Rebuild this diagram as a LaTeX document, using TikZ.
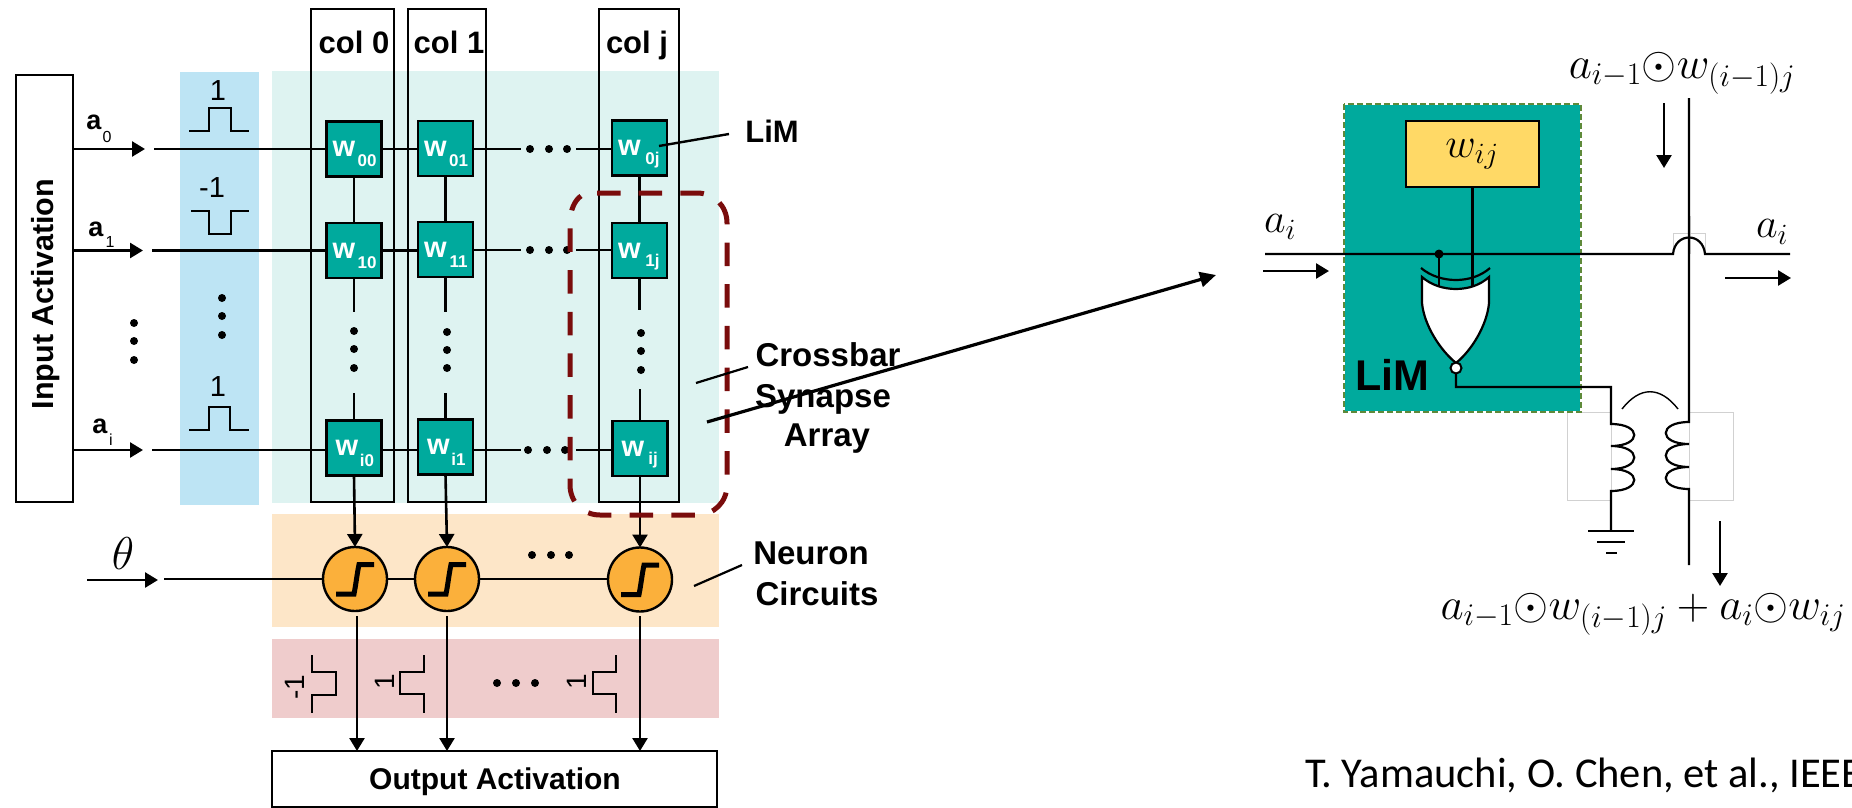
\RequirePackage{fix-cm}
\documentclass[tikz,border=0pt]{standalone}
\usepackage{fontspec}
\setmainfont{Liberation Sans}
\newfontfamily\citefont{Carlito}
\usetikzlibrary{arrows.meta}
\newcommand{\fsz}[1]{\fontsize{#1}{#1}\selectfont}
\definecolor{blueband}{HTML}{BDE4F4}
\definecolor{tealband}{HTML}{DEF3F1}
\definecolor{orangeband}{HTML}{FDE6C8}
\definecolor{pinkband}{HTML}{EFCCCC}
\definecolor{limteal}{HTML}{00AA9D}
\definecolor{neuronfill}{HTML}{FBB03B}
\definecolor{darkred}{HTML}{7A0C0C}
\definecolor{wyellow}{HTML}{FFD966}
\definecolor{limgreen}{HTML}{5F8A3A}
\tikzset{
  wire/.style={line width=2.6pt,black},
  thinw/.style={line width=2.2pt,black},
  arr/.style={line width=2.6pt,-{Triangle[length=13pt,width=15pt]}},
  outbox/.style={draw=black,line width=2.6pt,fill=white,inner sep=0pt,outer sep=0pt},
  colbox/.style={draw=black,line width=2.6pt,inner sep=0pt,outer sep=0pt},
  wbox/.style={draw=black,line width=2.6pt,fill=limteal,minimum width=55pt,minimum height=55pt,inner sep=0pt,outer sep=0pt},
  neuron/.style={circle,draw=black,line width=2.4pt,fill=neuronfill,minimum size=64pt,inner sep=0pt,outer sep=0pt},
  lab/.style={inner sep=0pt,font=\bfseries\fsz{33}},
  pulse/.style={line width=1.8pt,black},
  graybox/.style={draw=black!18,line width=1pt},
  wlet/.style={inner sep=0pt,text=white,font=\bfseries\fsz{29}},
  wsub/.style={inner sep=0pt,text=white,font=\bfseries\fsz{17}},
  pnum/.style={inner sep=0pt,font=\fsz{29}},
  mth/.style={inner sep=0pt,font=\fsz{42}},
  mthb/.style={inner sep=0pt,font=\fsz{45}},
  alet/.style={inner sep=0pt,font=\bfseries\fsz{27}},
  asub/.style={inner sep=0pt,font=\fsz{16}},
  coltxt/.style={inner sep=0pt,font=\bfseries\fsz{31}},
}
\begin{document}
\begin{tikzpicture}[x=1pt,y=-1pt]
\useasboundingbox (0,0) rectangle (1852,808);
\clip (0,0) rectangle (1852,808);
% bands
\fill[blueband] (180,72) rectangle (259,505);
\fill[tealband] (272,71) rectangle (719,503);
\fill[orangeband] (272,514) rectangle (719,627);
\fill[pinkband] (272,639) rectangle (719,718);
% column boxes
\node[colbox,minimum width=83pt,minimum height=493pt] (c0) at (352.5,255.5) {};
\node[colbox,minimum width=78pt,minimum height=493pt] (c1) at (447,255.5) {};
\node[colbox,minimum width=80pt,minimum height=493pt] (cj) at (639,255.5) {};
\node[coltxt] (t0) at (354,42) {col 0};
\node[coltxt] (t1) at (449,42) {col 1};
\node[coltxt] (tj) at (637,45) {col j};
% input box
\node[outbox,minimum width=57pt,minimum height=427pt] (inb) at (44.5,288.5) {};
\node[inner sep=0pt,rotate=90,font=\bfseries\fsz{30.5}] (intext) at (46,294) {Input Activation};
% W nodes
\foreach \n/\x/\y/\s/\dx in {w00/354/149/00/0,w01/445.5/148.5/01/0,w0j/639.5/148/0j/0,
  w10/354/250.5/10/0,w11/445.5/249.5/11/0,w1j/639.5/250.5/1j/0,
  wi0/354/448/i0/3,wi1/445.5/447/i1/3,wij/640/448.5/ij/3}{
  \node[wbox] (\n) at (\x,\y) {};
  \node[wlet] (\n l) at ([xshift={-10pt+\dx*1pt},yshift=0pt]\n.center) {w};
  \node[wsub] (\n s) at ([xshift=13pt,yshift=-12pt]\n.center) {\s};
}
% row wires
\coordinate (r0) at (154,149);
\coordinate (r1) at (152,250.5);
\coordinate (ri) at (152,450);
\coordinate (h0) at (145,149);
\coordinate (h1) at (143,250.5);
\coordinate (hi) at (143,450);
\draw[arr] (inb.east |- h0) -- (h0);
\draw[arr] (inb.east |- h1) -- (h1);
\draw[arr] (inb.east |- hi) -- (hi);
\draw[wire] (r0) -- (w00.west |- r0);
\draw[wire] (r1) -- (w10.west |- r1);
\draw[wire] (ri) -- (wi0.west |- ri);
\draw[wire] (w00.east |- r0) -- (w01.west |- r0);
\draw[wire] (w10.east |- r1) -- (w11.west |- r1);
\draw[wire] (wi0.east |- ri) -- (wi1.west |- ri);
\foreach \a/\b/\y/\i in {w01/w0j/149/a,w11/w1j/250/b,wi1/wij/450/c}{
  \coordinate (e1\i) at (521,\y);
  \coordinate (e2\i) at (576,\y);
  \draw[wire] (\a.east |- e1\i) -- (e1\i);
  \draw[wire] (e2\i) -- (\b.west |- e2\i);
}
% vertical wires
\draw[thinw] (w00) -- (w10);
\draw[thinw] (w01) -- (w11);
\draw[thinw] (w0j) -- (w1j);
\foreach \a/\b/\s/\t/\i in {w10/wi0/312/393/a,w11/wi1/312/393/b,w1j/wij/310/389/c}{
  \coordinate (va\i) at (\a.south |- 0,\s);
  \coordinate (vb\i) at (\b.north |- 0,\t);
  \draw[thinw] (\a.south) -- (va\i);
  \draw[thinw] (vb\i) -- (\b.north);
}
% neurons
\node[neuron] (n0) at (355,579) {};
\node[neuron] (n1) at (447,579) {};
\node[neuron] (nj) at (640,579.5) {};
\foreach \m in {n0,n1,nj}{
  \begin{scope}[shift={(\m.center)}]
    \draw[line width=5pt,miter limit=4] (-19,15) -- (-1,15) .. controls (1,5) and (2,-5) .. (4,-14.5) -- (19,-14.5);
  \end{scope}
}
\draw[arr] (wi0.south) -- (n0.north);
\draw[arr] (wi1.south) -- (n1.north);
\draw[arr] (wij.south) -- (nj.north);
\coordinate (th) at (164,579);
\coordinate (tha) at (87,580);
\coordinate (thb) at (158,580);
\draw[arr] (tha) -- (thb);
\draw[wire] (th) -- (n0.west);
\draw[wire] (n0.east) -- (n1.west);
\draw[wire] (n1.east) -- (nj.west |- n1.east);
\node[inner sep=0pt,font=\fsz{46}] (theta) at (123,554) {$\theta$};
% output
\node[outbox,minimum width=445pt,minimum height=56pt] (outb) at (494.5,779) {};
\node[inner sep=0pt,font=\bfseries\fsz{30}] (outt) at (495,782) {Output Activation};
\coordinate (o0) at (357,616);
\coordinate (o1) at (447,616);
\coordinate (oj) at (640,616);
\draw[arr] (o0) -- (o0 |- outb.north);
\draw[arr] (o1) -- (o1 |- outb.north);
\draw[arr] (oj) -- (oj |- outb.north);
% blue pulses
\draw[pulse] (189,131) -- (209,131) -- (209,108) -- (231,108) -- (231,131) -- (249,131);
\draw[pulse] (191,211) -- (209,211) -- (209,234) -- (231,234) -- (231,211) -- (249,211);
\draw[pulse] (189,430) -- (209,430) -- (209,407) -- (230,407) -- (230,430) -- (249,430);
\node[pnum] (p1) at (218,91) {1};
\node[pnum] (p2) at (212,188) {-1};
\node[pnum] (p3) at (218,387) {1};
% pink pulses
\draw[pulse] (312,655) -- (312,672) -- (336,672) -- (336,695) -- (312,695) -- (312,713);
\draw[pulse] (424,655) -- (424,672) -- (400,672) -- (400,694) -- (424,694) -- (424,713);
\draw[pulse] (616,655) -- (616,672) -- (593,672) -- (593,694) -- (616,694) -- (616,713);
\node[pnum,rotate=90,font=\fsz{28}] (q1) at (295,687) {-1};
\node[pnum,rotate=90,font=\fsz{28}] (q2) at (385,682) {1};
\node[pnum,rotate=90,font=\fsz{28}] (q3) at (577,682) {1};
% dots
\foreach \p in {(530,149),(549,149),(567,149),(530,250),(549,250),(567,250),(528,450),(547,450),(565,450),
  (222,298),(222,316),(222,335),(134,323),(134,341),(134,360),
  (354,331),(354,349),(354,368),(447,332),(447,350),(447,368),(641,333),(641,351),(641,370),
  (532,555),(551,555),(569,555),(497,683),(516,683),(535,683)}{
  \fill[black] \p circle (4);
}
% a labels
\node[alet] (a0) at (94,122) {a};
\node[asub] (a0s) at (107,137) {0};
\node[alet] (a1) at (96,229) {a};
\node[asub] (a1s) at (110,242) {1};
\node[alet] (ai) at (100,426) {a};
\node[asub] (ais) at (111,440) {i};
% dashed highlight
\draw[darkred,line width=5pt,dash pattern=on 23.5pt off 18.2pt]
  (597,193) -- (697,193) .. controls (714,193) and (727,206) .. (727,223) -- (727,485)
  .. controls (727,502) and (714,515) .. (697,515) -- (600,515)
  .. controls (583,515) and (570,502) .. (570,485) -- (570,223)
  .. controls (570,210) and (575,200) .. (581,196);
% labels
\node[lab,font=\bfseries\fsz{31}] (lim) at (772,131) {LiM};
\coordinate (lima) at (729,134);
\coordinate (limb) at (659,146);
\draw[line width=2.4pt] (lima) -- (limb);
\node[lab] (cb1) at (828,355) {Crossbar};
\node[lab] (cb2) at (823,399) {Synapse};
\node[lab] (cb3) at (827,439) {Array};
\coordinate (cba) at (748,367);
\coordinate (cbb) at (696,383);
\draw[thinw] (cba) -- (cbb);
\node[lab] (nc1) at (811,553) {Neuron};
\node[lab] (nc2) at (817,594) {Circuits};
\coordinate (nca) at (742,565);
\coordinate (ncb) at (694,586);
\draw[thinw] (nca) -- (ncb);
% big arrow
\coordinate (bga) at (707,422);
\coordinate (bgb) at (1216,275);
\draw[line width=3.2pt,-{Triangle[length=16pt,width=15pt]}] (bga) -- (bgb);
% ---------- right part ----------
\draw[graybox] (1567,412) rectangle (1611,500);
\draw[graybox] (1689,412) rectangle (1733,500);
\draw[graybox] (1673,254) -- (1673,233) -- (1705,233) -- (1705,254);
\draw[graybox] (1690,216) -- (1690,254);
\fill[limteal] (1344,104) rectangle (1581,412);
\draw[white,line width=2.2pt] (1344,104) rectangle (1581,412);
\draw[limgreen,line width=2.2pt,dash pattern=on 6pt off 3pt] (1344,104) rectangle (1581,412);
\node[outbox,fill=wyellow,line width=2.2pt,minimum width=133pt,minimum height=66pt] (wy) at (1472.5,154) {};
\node[mth] (wyt) at (1472,154) {$w_{ij}$};
\node[inner sep=0pt,font=\bfseries\fsz{43}] (limbig) at (1392,375) {LiM};
% horizontal a_i line
\coordinate (al) at (1265,254);
\coordinate (ja) at (1673,254);
\coordinate (jb) at (1705,254);
\coordinate (ar) at (1790,254);
% gate
\coordinate (gl) at (1439,286);
\coordinate (gr) at (1472,287);
\fill[black] (1439,254) circle (4.5) coordinate (dot);
\draw[thinw] (dot) -- (gl);
\draw[thinw] (wy.south) -- (wy.south |- gr);
\draw[thinw,fill=white] (1422,277) .. controls (1440,293) and (1472,293) .. (1489,277) -- (1489,303)
  .. controls (1487,325) and (1472,350) .. (1456,363) .. controls (1440,350) and (1424,325) .. (1422,303) -- cycle;
\draw[thinw] (1421,268) .. controls (1440,284) and (1472,284) .. (1490,268);
\draw[wire,line width=2.2pt] (al) -- (ja) .. controls (1675,232) and (1703,232) .. (jb) -- (ar);
\node[circle,draw=black,line width=2pt,fill=white,minimum size=11pt,inner sep=0pt,outer sep=0pt] (bub) at (1456,368) {};
% primary coil
\coordinate (pc) at (1611,424);
\coordinate (gnd) at (1611,531);
\draw[thinw] (bub.south) |- (1611,387) -- (pc)
  .. controls (1642,424) and (1642,446) .. (1611,446)
  .. controls (1642,446) and (1642,469) .. (1611,469)
  .. controls (1642,469) and (1642,491) .. (1611,491) -- (gnd);
\draw[thinw] (1588,531) -- (1634,531);
\draw[thinw] (1597,542) -- (1625,542);
\draw[thinw] (1606,553) -- (1617,553);
% secondary
\coordinate (st) at (1689,98);
\coordinate (sb) at (1689,565);
\draw[thinw] (st) -- (1689,422)
  .. controls (1658,422) and (1658,444) .. (1689,444)
  .. controls (1658,444) and (1658,467) .. (1689,467)
  .. controls (1658,467) and (1658,489) .. (1689,489) -- (sb);
\draw[line width=1.4pt] (1622,409) .. controls (1640,386) and (1660,386) .. (1678,409);
% arrows right
\coordinate (l1) at (1263,271); \coordinate (l2) at (1329,271);
\coordinate (r1a) at (1725,278); \coordinate (r2a) at (1791,278);
\coordinate (d1) at (1664,103); \coordinate (d2) at (1664,168);
\coordinate (d3) at (1720,521); \coordinate (d4) at (1720,586);
\draw[arr] (l1) -- (l2);
\draw[arr] (r1a) -- (r2a);
\draw[arr] (d1) -- (d2);
\draw[arr] (d3) -- (d4);
% math labels
\node[mth] (ail) at (1280,227) {$a_i$};
\node[mth] (air) at (1772,232) {$a_i$};
\node[mthb] (ftop) at (1682,73) {$a_{i-1}{\odot}w_{(i-1)j}$};
\node[mthb] (fbot) at (1643,614) {$a_{i-1}{\odot}w_{(i-1)j}+a_i{\odot}w_{ij}$};
% citation
\node[inner sep=0pt,anchor=west,font=\citefont\fsz{42.5}] (cite) at (1305,775) {T. Yamauchi, O. Chen, et al., IEEE};
\end{tikzpicture}
\end{document}
